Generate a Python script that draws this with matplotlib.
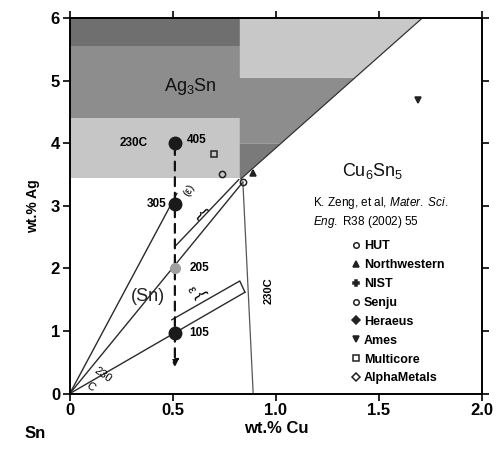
import matplotlib
matplotlib.use('Agg')
import matplotlib.pyplot as plt
from matplotlib.lines import Line2D
from matplotlib.patches import Polygon

plt.rcParams['font.family'] = ['Liberation Sans', 'DejaVu Sans']
plt.rcParams['mathtext.fontset'] = 'custom'
plt.rcParams['mathtext.rm'] = 'Liberation Sans'
plt.rcParams['mathtext.it'] = 'Liberation Sans:italic'
plt.rcParams['mathtext.bf'] = 'Liberation Sans:bold'

# Ag3Sn + liquid field (left block), gray bands by Ag level
ag3sn_cu_edge = 0.825
ag3sn_bands = [3.45, 4.4, 5.55, 6.0]
ag3sn_greys = ['#c6c6c6', '#8d8d8d', '#6f6f6f']

# Ag3Sn + Cu6Sn5 field bounded by the diagonal
diag_cu = [0.83, 1.71]
diag_ag = [3.43, 6.0]
ternary_split_ag = [4.0, 5.05]
ternary_greys = ['#7a7a7a', '#8d8d8d', '#c8c8c8']

# SAC alloys along 0.5 wt.% Cu
sac_cu = [0.51, 0.51, 0.51, 0.51]
sac_ag = [4.0, 3.03, 2.0, 0.97]
sac_names = ['405', '305', '205', '105']
sac_colors = ['#1a1a1a', '#1a1a1a', '#a0a0a0', '#1a1a1a']

# commercial / lab compositions
vendor_names = ['HUT', 'Northwestern', 'NIST', 'Senju', 'Heraeus', 'Ames',
                'Multicore', 'AlphaMetals']
vendor_markers = ['o', '^', 'P', 'o', 'D', 'v', 's', 'D']
vendor_filled = [False, True, True, False, True, True, False, False]
vendor_cu = [0.84, 0.89, None, 0.74, None, 1.69, 0.70, None]
vendor_ag = [3.38, 3.52, None, 3.51, None, 4.70, 3.83, None]

# tie lines / solidification paths from the Sn corner
path_end_cu = [0.52, 0.84, 0.85]
path_end_ag = [3.20, 3.38, 1.62]
# eutectic-groove wedges
wedge_cu = [[0.51, 0.82], [0.495, 0.825, 0.85]]
wedge_ag = [[2.35, 3.42], [1.18, 1.80, 1.62]]
# 230C isotherm near Cu6Sn5 boundary
iso_cu = [0.89, 0.84]
iso_ag = [0.0, 3.38]

fig = plt.figure(figsize=(5.02, 4.54), dpi=100)
ax = fig.add_axes([0.139, 0.133, 0.821, 0.827])
ax.set_xlim(0, 2)
ax.set_ylim(0, 6)

for lo, hi, c in zip(ag3sn_bands[:-1], ag3sn_bands[1:], ag3sn_greys):
    ax.fill_between([0, ag3sn_cu_edge], lo, hi, color=c, lw=0, zorder=0)


def diag_x(y):
    return diag_cu[0] + (y - diag_ag[0]) / (diag_ag[1] - diag_ag[0]) * (diag_cu[1] - diag_cu[0])


levels = [diag_ag[0]] + ternary_split_ag + [diag_ag[1]]
for lo, hi, c in zip(levels[:-1], levels[1:], ternary_greys):
    pts = [(ag3sn_cu_edge, max(lo, ag3sn_bands[0])), (diag_x(lo), lo),
           (diag_x(hi), hi), (ag3sn_cu_edge, hi)]
    ax.add_patch(Polygon(pts, closed=True, fc=c, ec='none', zorder=0))
ax.plot(diag_cu, diag_ag, color='#333333', lw=0.9, zorder=1)

# paths from the origin
for xe, ye in zip(path_end_cu, path_end_ag):
    ax.plot([0, xe], [0, ye], color='#2a2a2a', lw=1.0, zorder=2)
for xs, ys in zip(wedge_cu, wedge_ag):
    ax.plot(xs, ys, color='#2a2a2a', lw=1.0, zorder=2)
ax.plot(iso_cu, iso_ag, color='#555555', lw=0.9, zorder=2)

# dashed arrow down the 0.5 Cu line
ax.annotate('', xy=(sac_cu[0], 0.38), xytext=(sac_cu[0], sac_ag[0]),
            arrowprops=dict(arrowstyle='-|>', linestyle=(0, (4, 3)), lw=1.6,
                            color='#111111', mutation_scale=10), zorder=3)

sizes = [9, 9, 7, 9]
for x, y, c, s in zip(sac_cu, sac_ag, sac_colors, sizes):
    ax.plot(x, y, 'o', color=c, ms=s, zorder=4)
lbl_kw = dict(fontsize=8.5, fontweight='bold', va='center', zorder=5)
ax.text(sac_cu[0] + 0.06, sac_ag[0] + 0.05, sac_names[0], ha='left', **lbl_kw)
ax.text(sac_cu[1] - 0.04, sac_ag[1], sac_names[1], ha='right', **lbl_kw)
ax.text(sac_cu[2] + 0.07, sac_ag[2], sac_names[2], ha='left', **lbl_kw)
ax.text(sac_cu[3] + 0.07, sac_ag[3], sac_names[3], ha='left', **lbl_kw)
ax.text(0.31, 4.0, '230C', ha='center', **lbl_kw)

for x, y, m, f in zip(vendor_cu, vendor_ag, vendor_markers, vendor_filled):
    if x is None:
        continue
    ax.plot(x, y, m, ms=4.5, color='#222222', mfc='#222222' if f else 'none',
            mew=1.1, zorder=4)

# phase labels
ax.text(0.585, 4.9, 'Ag$_3$Sn', fontsize=13, ha='center', va='center', color='#111111')
ax.text(1.47, 3.56, 'Cu$_6$Sn$_5$', fontsize=13, ha='center', va='center', color='#111111')
ax.text(0.38, 1.55, '(Sn)', fontsize=13, ha='center', va='center', color='#222222')
ax.text(0.965, 1.65, '230C', fontsize=8, fontweight='bold', rotation=90,
        ha='center', va='center')
ax.text(0.16, 0.3, '230', fontsize=8, rotation=-35, ha='center', va='center')
ax.text(0.1, 0.11, 'C', fontsize=8, rotation=-35, ha='center', va='center')
ax.text(0.58, 3.25, '(ε)', fontsize=8, rotation=60, ha='center', va='center')
ax.text(0.585, 1.66, 'ε', fontsize=9, rotation=-60, ha='center', va='center')
ax.text(0.635, 2.88, '{', fontsize=12, rotation=-45, ha='center', va='center')
ax.text(0.63, 1.58, '{', fontsize=12, rotation=-60, ha='center', va='center')

ax.text(1.18, 2.89, 'K. Zeng, et al, $\\mathit{Mater.\\ Sci.}$\n$\\mathit{Eng.}$ R38 (2002) 55',
        fontsize=8.5, ha='left', va='center', linespacing=1.3)

handles = [Line2D([], [], marker=m, ls='none', color='#222222', ms=4,
                  mfc='#222222' if f else 'none', mew=1.1)
           for m, f in zip(vendor_markers, vendor_filled)]
ax.legend(handles, vendor_names, loc='upper left', bbox_to_anchor=(0.67, 0.425),
          frameon=False, handlelength=0.6, handletextpad=0.35, labelspacing=0.55,
          borderpad=0, prop=dict(size=9, weight='bold'))

ax.set_xticks([0, 0.5, 1.0, 1.5, 2.0])
ax.set_xticklabels(['0', '0.5', '1.0', '1.5', '2.0'])
ax.set_yticks(range(7))
ax.tick_params(direction='out', top=True, right=True, length=5, width=1.2,
               labelsize=12, pad=2)
for t in ax.get_xticklabels() + ax.get_yticklabels():
    t.set_fontweight('bold')
for s in ax.spines.values():
    s.set_linewidth(1.4)
ax.set_xlabel('wt.% Cu', fontsize=12, fontweight='bold', labelpad=2)
ax.set_ylabel('wt.% Ag', fontsize=10, fontweight='bold', labelpad=8)
fig.text(0.07, 0.045, 'Sn', fontsize=12, fontweight='bold', ha='center', va='center')

fig.savefig('out.png', dpi=100)
